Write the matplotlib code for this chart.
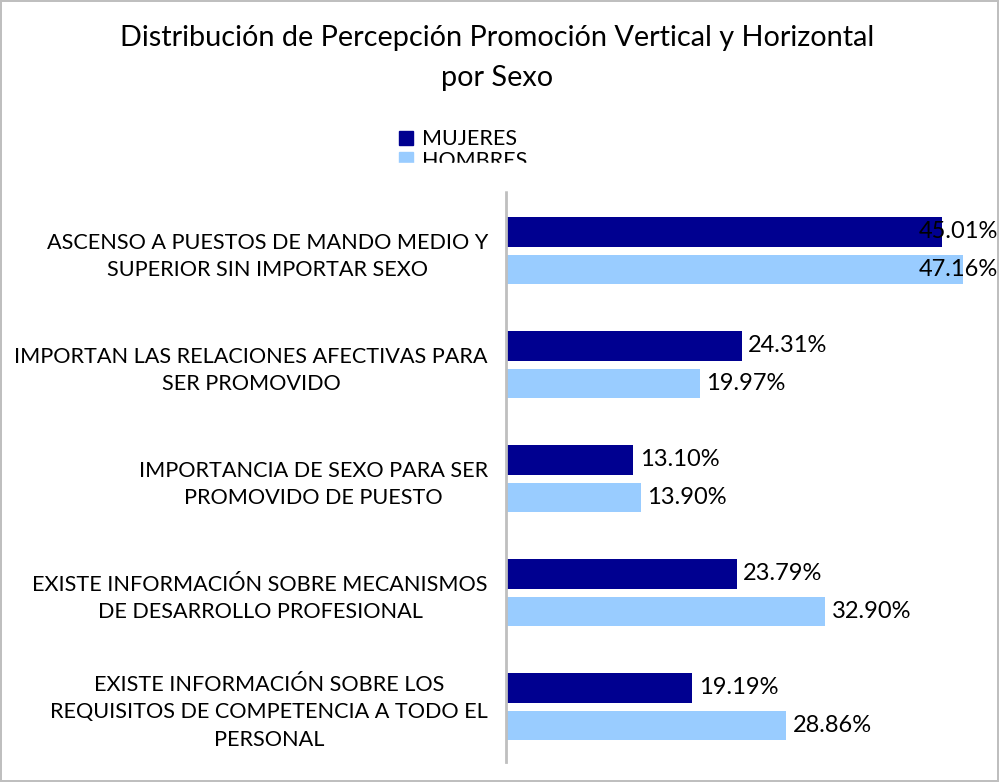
import matplotlib.pyplot as plt
from matplotlib.patches import Patch, Rectangle
import numpy as np

categories = [
    "ASCENSO A PUESTOS DE MANDO MEDIO Y\nSUPERIOR SIN IMPORTAR SEXO",
    "IMPORTAN LAS RELACIONES AFECTIVAS PARA\nSER PROMOVIDO",
    "IMPORTANCIA DE SEXO PARA SER\nPROMOVIDO DE PUESTO",
    "EXISTE INFORMACIÓN SOBRE MECANISMOS\nDE DESARROLLO PROFESIONAL",
    "EXISTE INFORMACIÓN SOBRE LOS\nREQUISITOS DE COMPETENCIA A TODO EL\nPERSONAL",
]
mujeres = [45.01, 24.31, 13.10, 23.79, 19.19]
hombres = [47.16, 19.97, 13.90, 32.90, 28.86]
series_names = ["MUJERES", "HOMBRES"]
colors = ["#000090", "#99CCFF"]

plt.rcParams['font.family'] = ['Lato', 'DejaVu Sans']

W, H = 999, 782
fig = plt.figure(figsize=(W / 100, H / 100), dpi=100)
fig.patch.set_edgecolor("#BFBFBF")
fig.patch.set_linewidth(1.5)

ax = fig.add_axes([506 / W, (H - 762) / H, 484.5 / W, 570 / H])

y = np.arange(len(categories))
off = 0.165
h = 0.262
shift = 0.015
ax.barh(y - off + shift, mujeres, height=h, color=colors[0], label=series_names[0])
ax.barh(y + off + shift, hombres, height=h, color=colors[1], label=series_names[1])

ax.set_xlim(0, 50)
ax.set_ylim(len(categories) - 0.5, -0.5)
ax.set_yticks(y + shift)
ax.set_yticklabels(categories, multialignment="center", fontsize=15.6,
                   linespacing=1.45)
ax.tick_params(axis="y", length=0, pad=13)
ax.set_xticks([])
for s in ["top", "right", "bottom"]:
    ax.spines[s].set_visible(False)
ax.spines["left"].set_color("#BFBFBF")
ax.spines["left"].set_linewidth(2)

right_edge = (998 - 506) / 9.69
for vals, dy in [(mujeres, -off), (hombres, off)]:
    for i, v in enumerate(vals):
        if v > 44:
            ax.text(right_edge, i + dy + shift, f"{v:.2f}%", ha="right", va="center",
                    fontsize=17, clip_on=False)
        else:
            ax.text(v + 0.7, i + dy + shift, f"{v:.2f}%", ha="left", va="center",
                    fontsize=17)

fig.text(497 / W, 1 - 38 / H, "Distribución de Percepción Promoción Vertical y Horizontal",
         ha="center", va="center", fontsize=20.8)
fig.text(497 / W, 1 - 78 / H, "por Sexo", ha="center", va="center", fontsize=20.8)

handles = [Patch(color=c) for c in colors]
leg = fig.legend(handles, series_names, loc="center left",
                 bbox_to_anchor=(388 / W, 1 - 150 / H), frameon=False,
                 fontsize=15.5, handlelength=0.65, handleheight=0.65,
                 handletextpad=0.45, labelspacing=0.05, borderpad=0)

# legend box is cut off at the bottom in the original
fig.patches.append(Rectangle((370 / W, 1 - 190 / H), 230 / W, 27 / H,
                             transform=fig.transFigure, color="white", zorder=10))

fig.savefig("out.png", dpi=100)
